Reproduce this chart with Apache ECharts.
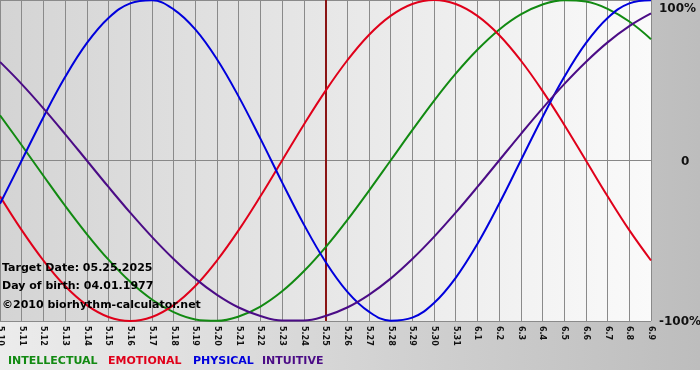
<!DOCTYPE html>
<html><head><meta charset="utf-8">
<script src="https://cdn.jsdelivr.net/npm/echarts@6/dist/echarts.min.js"></script>
<style>html,body{margin:0;padding:0;background:#fff}#c{width:700px;height:380px}</style>
</head><body><div id="c"></div>
<script>
const days = ['5.10','5.11','5.12','5.13','5.14','5.15','5.16','5.17','5.18','5.19','5.20','5.21','5.22','5.23','5.24','5.25','5.26','5.27','5.28','5.29','5.30','5.31','6.1','6.2','6.3','6.4','6.5','6.6','6.7','6.8','6.9'];
const intellectual = [28.2,9.5,-9.5,-28.2,-45.8,-61.8,-75.6,-86.6,-94.5,-99.0,-99.9,-97.2,-91.0,-81.5,-69.0,-54.1,-37.2,-18.9,0,18.9,37.2,54.1,69.0,81.5,91.0,97.2,99.9,99.0,94.5,86.6,75.6];
const emotional = [-22.3,-43.4,-62.3,-78.2,-90.1,-97.5,-100,-97.5,-90.1,-78.2,-62.3,-43.4,-22.3,0,22.3,43.4,62.3,78.2,90.1,97.5,100,97.5,90.1,78.2,62.3,43.4,22.3,0,-22.3,-43.4,-62.3];
const physical = [-27.0,0,27.0,52.0,73.1,88.8,97.9,99.8,94.2,81.7,63.1,39.8,13.6,-13.6,-39.8,-63.1,-81.7,-94.2,-99.8,-97.9,-88.8,-73.1,-52.0,-27.0,0,27.0,52.0,73.1,88.8,97.9,99.8];
const intuitive = [61.4,47.6,32.5,16.5,0,-16.5,-32.5,-47.6,-61.4,-73.6,-83.7,-91.6,-96.9,-99.7,-99.7,-96.9,-91.6,-83.7,-73.6,-61.4,-47.6,-32.5,-16.5,0,16.5,32.5,47.6,61.4,73.6,83.7,91.6];
const yTickValues = [100, 0, -100];
const yTickLabels = ['100%', '0', '-100%'];
const targetDay = '5.25';
const infoLines = ['Target Date: 05.25.2025', 'Day of birth: 04.01.1977', '\u00A92010 biorhythm-calculator.net'];
const legendNames = ['INTELLECTUAL', 'EMOTIONAL', 'PHYSICAL', 'INTUITIVE'];

const colors = ['#128a12', '#e0001a', '#0000dc', '#4b0c86'];
const seriesData = [intellectual, emotional, physical, intuitive];
const FONT = '"DejaVu Sans", Verdana, sans-serif';

const chart = echarts.init(document.getElementById('c'), null, {renderer: 'canvas'});

const series = seriesData.map((d, i) => ({
  name: legendNames[i],
  type: 'line',
  data: d,
  smooth: 0.4,
  symbol: 'none',
  lineStyle: {color: colors[i], width: 2},
  itemStyle: {color: colors[i]},
  z: 3
}));
series[0].markLine = {
  silent: true,
  symbol: ['none', 'none'],
  label: {show: false},
  lineStyle: {color: '#8a1414', width: 2, type: 'solid'},
  data: [{xAxis: targetDay}],
  z: 2
};

const legendX = [8, 108, 193, 262];
const graphics = [
  {type: 'rect', left: 0, top: 370, shape: {width: 700, height: 10}, style: {fill: '#ffffff'}, z: -1}
];
infoLines.forEach((t, i) => {
  graphics.push({type: 'text', left: 2, top: [263, 281, 300][i], z: 10,
    style: {text: t, font: 'bold 11px ' + FONT, fill: '#000'}});
});
legendNames.forEach((t, i) => {
  graphics.push({type: 'text', left: legendX[i], top: 356, z: 10,
    style: {text: t, font: 'bold 11px ' + FONT, fill: colors[i]}});
});

chart.setOption({
  animation: false,
  backgroundColor: {type: 'linear', x: 0, y: 0, x2: 1, y2: 0,
    colorStops: [{offset: 0, color: '#ececec'}, {offset: 1, color: '#bdbdbd'}]},
  grid: {left: 0, right: 49, top: 0, bottom: 59, show: true, borderWidth: 0,
    containLabel: false, outerBoundsMode: 'none',
    backgroundColor: {type: 'linear', x: 0, y: 0, x2: 1, y2: 0,
      colorStops: [{offset: 0, color: '#d4d4d4'}, {offset: 1, color: '#fafafa'}]}},
  xAxis: {
    type: 'category', data: days, boundaryGap: false,
    axisLine: {show: true, lineStyle: {color: '#888', width: 1}},
    axisTick: {show: true, length: 4, interval: 0, lineStyle: {color: '#888'}},
    splitLine: {show: true, interval: 0, lineStyle: {color: '#8a8a8a', width: 1}},
    axisLabel: {interval: 0, rotate: -90, margin: 5, fontSize: 8, fontWeight: 'bold', fontFamily: FONT, color: '#111'}
  },
  yAxis: {
    type: 'value', position: 'right', min: -100, max: 100, interval: 100,
    axisLine: {show: false}, axisTick: {show: false},
    splitLine: {show: true, lineStyle: {color: '#8a8a8a', width: 1}},
    axisLabel: {
      margin: 8, fontSize: 12, fontWeight: 'bold', fontFamily: FONT, color: '#111', align: 'left',
      formatter: v => {
        const k = yTickValues.indexOf(v);
        if (k < 0) return '';
        if (v === 0) return '{z|' + yTickLabels[k] + '}';
        if (v === 100) return '{t|' + yTickLabels[k] + '}';
        return '{b|' + yTickLabels[k] + '}';
      },
      rich: {
        z: {padding: [2, 0, 0, 22], fontSize: 12, fontWeight: 'bold', fontFamily: FONT, color: '#111'},
        t: {padding: [17, 0, 0, 0], fontSize: 12, fontWeight: 'bold', fontFamily: FONT, color: '#111'},
        b: {padding: [2, 0, 0, 0], fontSize: 12, fontWeight: 'bold', fontFamily: FONT, color: '#111'}
      }
    }
  },
  series: series,
  graphic: graphics
});
</script></body></html>
